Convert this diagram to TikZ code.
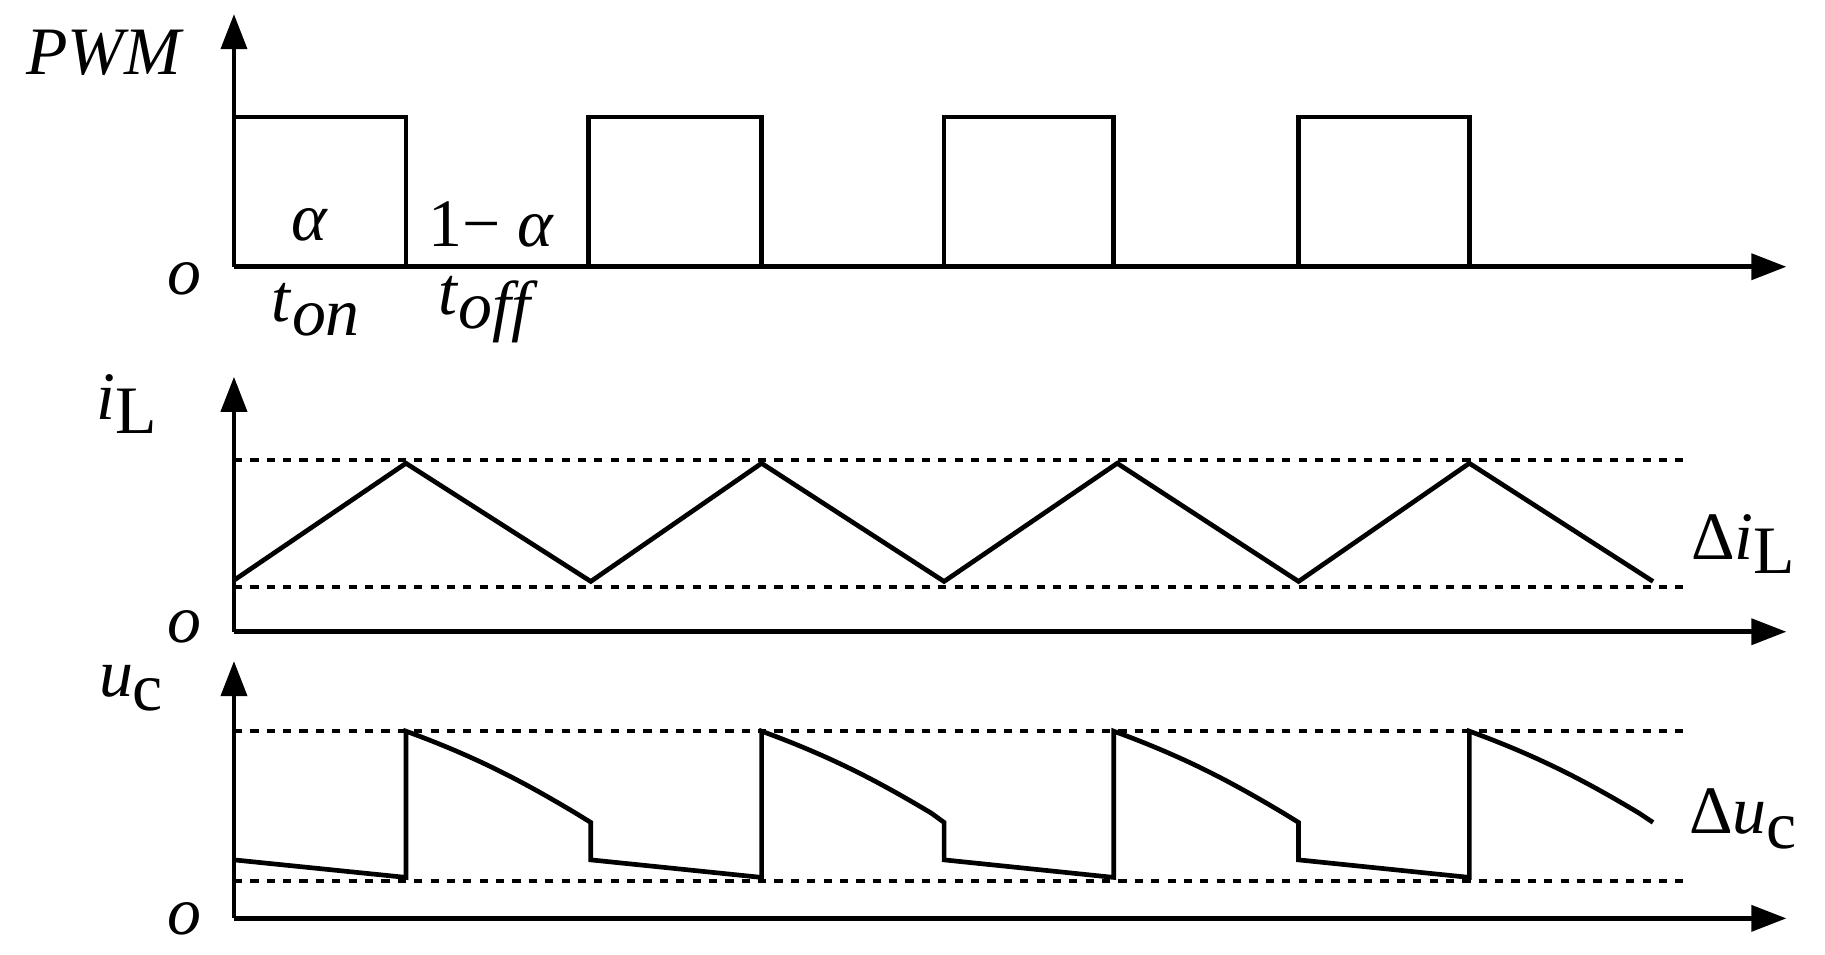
\documentclass[tikz,border=0pt]{standalone}
\usepackage{fontspec}
\setmainfont{Liberation Serif}[ItalicFont=Liberation Serif Italic]
\usetikzlibrary{arrows.meta}
\begin{document}
\begin{tikzpicture}[x=0.5pt,y=-0.5pt,
 ax/.style={line width=2pt,-{Triangle[length=15pt,width=11pt]}},
 wv/.style={line width=2pt,line join=miter},
 dsh/.style={line width=1.6pt,dash pattern=on 3.5pt off 3.5pt},
 lb/.style={font=\fontsize{29}{32}\selectfont,inner sep=0pt}]
\useasboundingbox (0,0) rectangle (1560,816);
% PWM
\draw[ax] (200,228) -- (200,12);
\draw[ax] (200,228) -- (1527,228);
\draw[wv] (200,228) -- (200,100) -- (347,100) -- (347,228) -- (503,228) -- (503,100) -- (651,100) -- (651,228) -- (807,228) -- (807,100) -- (952,100) -- (952,228) -- (1110,228) -- (1110,100) -- (1256,100) -- (1256,228) -- (1413,228);
\node[lb] (pwm) at (90,45) {\textit{PWM}};
\node[lb] (o1) at (158,238) {\textit{o}};
\node[lb] (al) at (265,192) {\textit{α}};
\node[lb] (al2) at (420,192) {1− \textit{α}};
\node[lb] (ton) at (270,265) {\textit{t}\raisebox{-6pt}{\textit{on}}};
\node[lb] (toff) at (417,265) {\textit{t}\raisebox{-6pt}{\textit{off}}};
% iL
\draw[ax] (200,540) -- (200,322);
\draw[ax] (200,540) -- (1527,540);
\draw[dsh] (200,393) -- (1445,393);
\draw[dsh] (200,502) -- (1445,502);
\draw[wv] (200,496) -- (347,396) -- (505,497) -- (651,396) -- (807,497) -- (955,396) -- (1110,497) -- (1256,396) -- (1413,497);
\node[lb] (il) at (108,345) {\textit{i}\raisebox{-6pt}{L}};
\node[lb] (dil) at (1490,465) {Δ\textit{i}\raisebox{-6pt}{L}};
\node[lb] (o2) at (158,536) {\textit{o}};
% uc
\draw[ax] (200,785) -- (200,565);
\draw[ax] (200,785) -- (1527,785);
\draw[dsh] (200,625) -- (1445,625);
\draw[dsh] (200,753) -- (1445,753);
\draw[wv] (200,735) -- (347,750) -- (347,625) .. controls (410,648) and (450,670) .. (492,695) -- (505,703) -- (505,735)
 -- (651,750) -- (651,625) .. controls (714,648) and (754,670) .. (796,695) -- (807,703) -- (807,735)
 -- (952,750) -- (952,625) .. controls (1015,648) and (1055,670) .. (1097,695) -- (1110,703) -- (1110,735)
 -- (1256,750) -- (1256,625) .. controls (1319,648) and (1359,670) .. (1401,695) -- (1413,703);
\node[lb] (uc) at (112,588) {\textit{u}\raisebox{-6pt}{c}};
\node[lb] (duc) at (1490,700) {Δ\textit{u}\raisebox{-6pt}{c}};
\node[lb] (o3) at (158,785) {\textit{o}};
\end{tikzpicture}
\end{document}
